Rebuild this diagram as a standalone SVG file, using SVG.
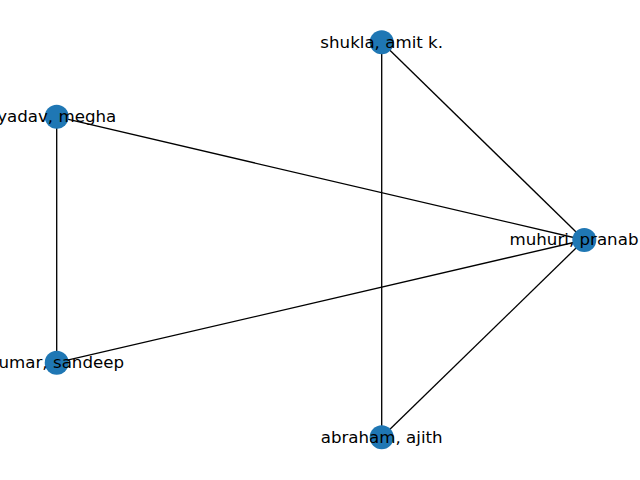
<svg xmlns="http://www.w3.org/2000/svg" width="640" height="480" viewBox="0 0 640 480">
<style>
.e{stroke:#000;stroke-width:1.33;fill:none}
.n{fill:#1f77b4}
.t{font-family:"DejaVu Sans",sans-serif;font-size:16.67px;fill:#000;text-anchor:middle}
</style>
<rect width="640" height="480" fill="#fff"/>
<g id="edges">
<line class="e" x1="381.7" y1="42.3" x2="584.3" y2="240"/>
<line class="e" x1="381.7" y1="42.3" x2="381.7" y2="437.3"/>
<line class="e" x1="56.7" y1="116.7" x2="584.3" y2="240"/>
<line class="e" x1="56.7" y1="116.7" x2="56.7" y2="362.7"/>
<line class="e" x1="56.7" y1="362.7" x2="584.3" y2="240"/>
<line class="e" x1="381.7" y1="437.3" x2="584.3" y2="240"/>
</g>
<g id="shukla"><circle class="n" cx="381.7" cy="42.3" r="12"/><text class="t" x="381.7" y="47.5">shukla, amit k.</text></g>
<g id="yadav"><circle class="n" cx="56.7" cy="116.7" r="12"/><text class="t" x="56.7" y="121.9">yadav, megha</text></g>
<g id="muhuri"><circle class="n" cx="584.3" cy="240" r="12"/><text class="t" x="574" y="245.2">muhuri, pranab</text></g>
<g id="kumar"><circle class="n" cx="56.7" cy="362.7" r="12"/><text class="t" x="56.7" y="367.9">kumar, sandeep</text></g>
<g id="abraham"><circle class="n" cx="381.7" cy="437.3" r="12"/><text class="t" x="381.7" y="442.5">abraham, ajith</text></g>
</svg>
